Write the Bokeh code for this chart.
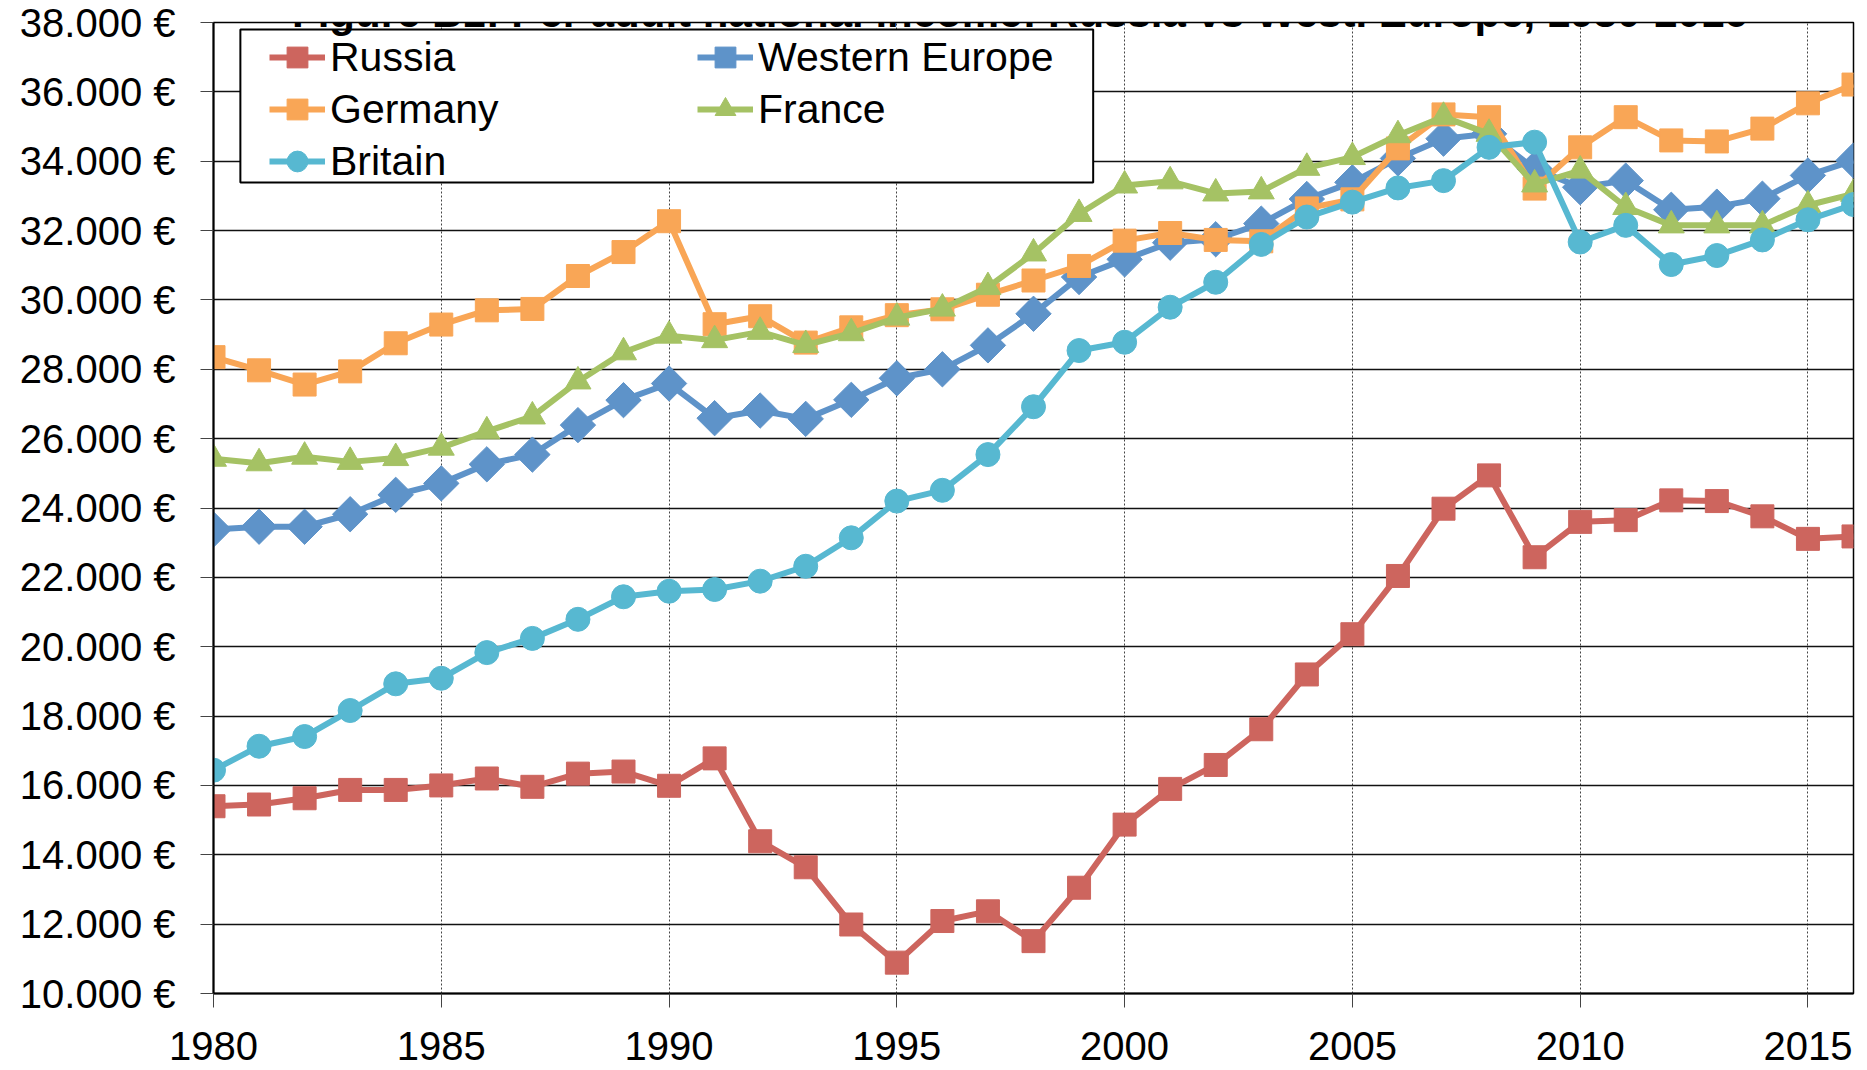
import math
from bokeh.plotting import figure
from bokeh.models import Range1d, FixedTicker, Legend, LegendItem, BoxAnnotation, Label
from bokeh.embed import file_html
from bokeh.resources import INLINE

# ---------------- data ----------------
years = list(range(1980, 2017))

russia = [15400, 15450, 15630, 15870, 15870, 16000, 16200, 15960, 16340, 16400,
          15990, 16780, 14390, 13640, 11990, 10890, 12090, 12370, 11510, 13050,
          14870, 15900, 16590, 17620, 19200, 20360, 22040, 23980, 24940, 22580,
          23600, 23650, 24220, 24200, 23760, 23110, 23180]

western_europe = [23380, 23460, 23460, 23820, 24380, 24710, 25260, 25540, 26390, 27110,
                  27590, 26590, 26810, 26570, 27120, 27740, 28000, 28690, 29600, 30660,
                  31170, 31650, 31750, 32200, 32910, 33390, 34080, 34650, 34790, 33780,
                  33250, 33440, 32600, 32690, 32920, 33590, 34020]

germany = [28350, 27970, 27560, 27940, 28750, 29290, 29700, 29740, 30690, 31380,
           32270, 29300, 29530, 28770, 29210, 29560, 29730, 30150, 30560, 30980,
           31710, 31930, 31730, 31690, 32640, 32900, 34370, 35350, 35270, 33210,
           34400, 35270, 34600, 34570, 34940, 35670, 36210]

france = [25420, 25290, 25480, 25330, 25440, 25740, 26210, 26640, 27650, 28490,
          28970, 28840, 29080, 28700, 29040, 29490, 29750, 30370, 31340, 32480,
          33300, 33420, 33070, 33130, 33810, 34120, 34750, 35280, 34790, 33330,
          33730, 32680, 32150, 32150, 32150, 32730, 33060]

britain = [16440, 17130, 17410, 18160, 18930, 19090, 19830, 20240, 20790, 21440,
           21600, 21650, 21890, 22320, 23140, 24200, 24510, 25540, 26920, 28540,
           28780, 29790, 30510, 31600, 32390, 32820, 33230, 33440, 34400, 34550,
           31670, 32150, 31020, 31280, 31730, 32310, 32750]

series_names = ["Russia", "Western Europe", "Germany", "France", "Britain"]
series_values = [russia, western_europe, germany, france, britain]

x_ticks = [1980, 1985, 1990, 1995, 2000, 2005, 2010, 2015]
x_tick_labels = ["1980", "1985", "1990", "1995", "2000", "2005", "2010", "2015"]

y_ticks = [10000, 12000, 14000, 16000, 18000, 20000, 22000, 24000,
           26000, 28000, 30000, 32000, 34000, 36000, 38000]
y_tick_labels = ["10.000 €", "12.000 €", "14.000 €", "16.000 €", "18.000 €",
                 "20.000 €", "22.000 €", "24.000 €", "26.000 €", "28.000 €",
                 "30.000 €", "32.000 €", "34.000 €", "36.000 €", "38.000 €"]

title_text = "Figure B1: Per adult national income: Russia vs West. Europe, 1980-2016"

# ---------------- styles ----------------
FONT = "Liberation Sans"
styles = {
    "Russia":         dict(color="#CD655E", marker="square",   size=23, angle=0.0),
    "Western Europe": dict(color="#5E93C9", marker="square",   size=25, angle=math.pi / 4),
    "Germany":        dict(color="#F9A656", marker="square",   size=23, angle=0.0),
    "France":         dict(color="#A5C264", marker="triangle", size=26, angle=0.0),
    "Britain":        dict(color="#57B8D1", marker="circle",   size=24, angle=0.0),
}

p = figure(width=1867, height=1070, output_backend="svg", toolbar_location=None,
           x_range=Range1d(1980, 2016), y_range=Range1d(10000, 38000),
           min_border_left=213, min_border_right=14, min_border_top=22,
           min_border_bottom=77)
p.margin = (0, 0, 0, 0)
p.background_fill_color = "white"
p.border_fill_color = "white"
p.outline_line_color = "black"
p.outline_line_width = 1.5

# grids
p.xgrid.ticker = FixedTicker(ticks=x_ticks)
p.xgrid.grid_line_color = "#444444"
p.xgrid.grid_line_dash = "2 2"
p.xgrid.grid_line_width = 1
p.ygrid.ticker = FixedTicker(ticks=y_ticks)
p.ygrid.grid_line_color = "#111111"
p.ygrid.grid_line_width = 1.5

# axes
p.xaxis.ticker = FixedTicker(ticks=x_ticks)
p.xaxis.major_label_overrides = {t: s for t, s in zip(x_ticks, x_tick_labels)}
p.yaxis.ticker = FixedTicker(ticks=y_ticks)
p.yaxis.major_label_overrides = {t: s for t, s in zip(y_ticks, y_tick_labels)}
for ax in (p.xaxis[0], p.yaxis[0]):
    ax.axis_line_color = "black"
    ax.axis_line_width = 2
    ax.major_tick_in = 0
    ax.minor_tick_in = 0
    ax.minor_tick_out = 0
    ax.major_tick_line_color = "#444444"
    ax.major_tick_line_width = 1
    ax.major_label_text_font = FONT
    ax.major_label_text_font_size = "40px"
    ax.major_label_text_color = "black"
p.xaxis.major_tick_out = 14
p.xaxis.major_label_standoff = 24
p.yaxis.major_tick_out = 13
p.yaxis.major_label_standoff = 25

# series
renderers = {}
for name, vals in zip(series_names, series_values):
    st = styles[name]
    ln = p.line(years, vals, line_color=st["color"], line_width=6)
    sc = p.scatter(years, vals, marker=st["marker"], size=st["size"], angle=st["angle"],
                   fill_color=st["color"], line_color=st["color"], line_width=1)
    renderers[name] = [ln, sc]

# legend box (white background with border)
box = BoxAnnotation(left=1980.59, right=1999.31, top=37798, bottom=33386,
                    fill_color="white", fill_alpha=1.0,
                    line_color="black", line_width=2, line_alpha=1.0)
p.add_layout(box)

def make_legend(names, loc):
    leg = Legend(items=[LegendItem(label=n, renderers=renderers[n]) for n in names],
                 location=loc, orientation="vertical",
                 border_line_color=None, background_fill_alpha=0.0,
                 padding=0, margin=0, spacing=0,
                 glyph_width=56, glyph_height=52, label_height=52,
                 label_standoff=5, label_text_font=FONT,
                 label_text_font_size="41px", label_text_color="black")
    return leg

p.add_layout(make_legend(["Russia", "Germany", "Britain"], (56, 806)), "center")
p.add_layout(make_legend(["Western Europe", "France"], (484, 858)), "center")

# title (cut at the top as in the original)
p.add_layout(Label(x=1997.7, y=38288, text=title_text, text_align="center",
                   text_baseline="alphabetic", text_font=FONT, text_font_style="bold",
                   text_font_size="42px", text_color="black"))

open("out.html", "w").write(file_html(p, INLINE))
